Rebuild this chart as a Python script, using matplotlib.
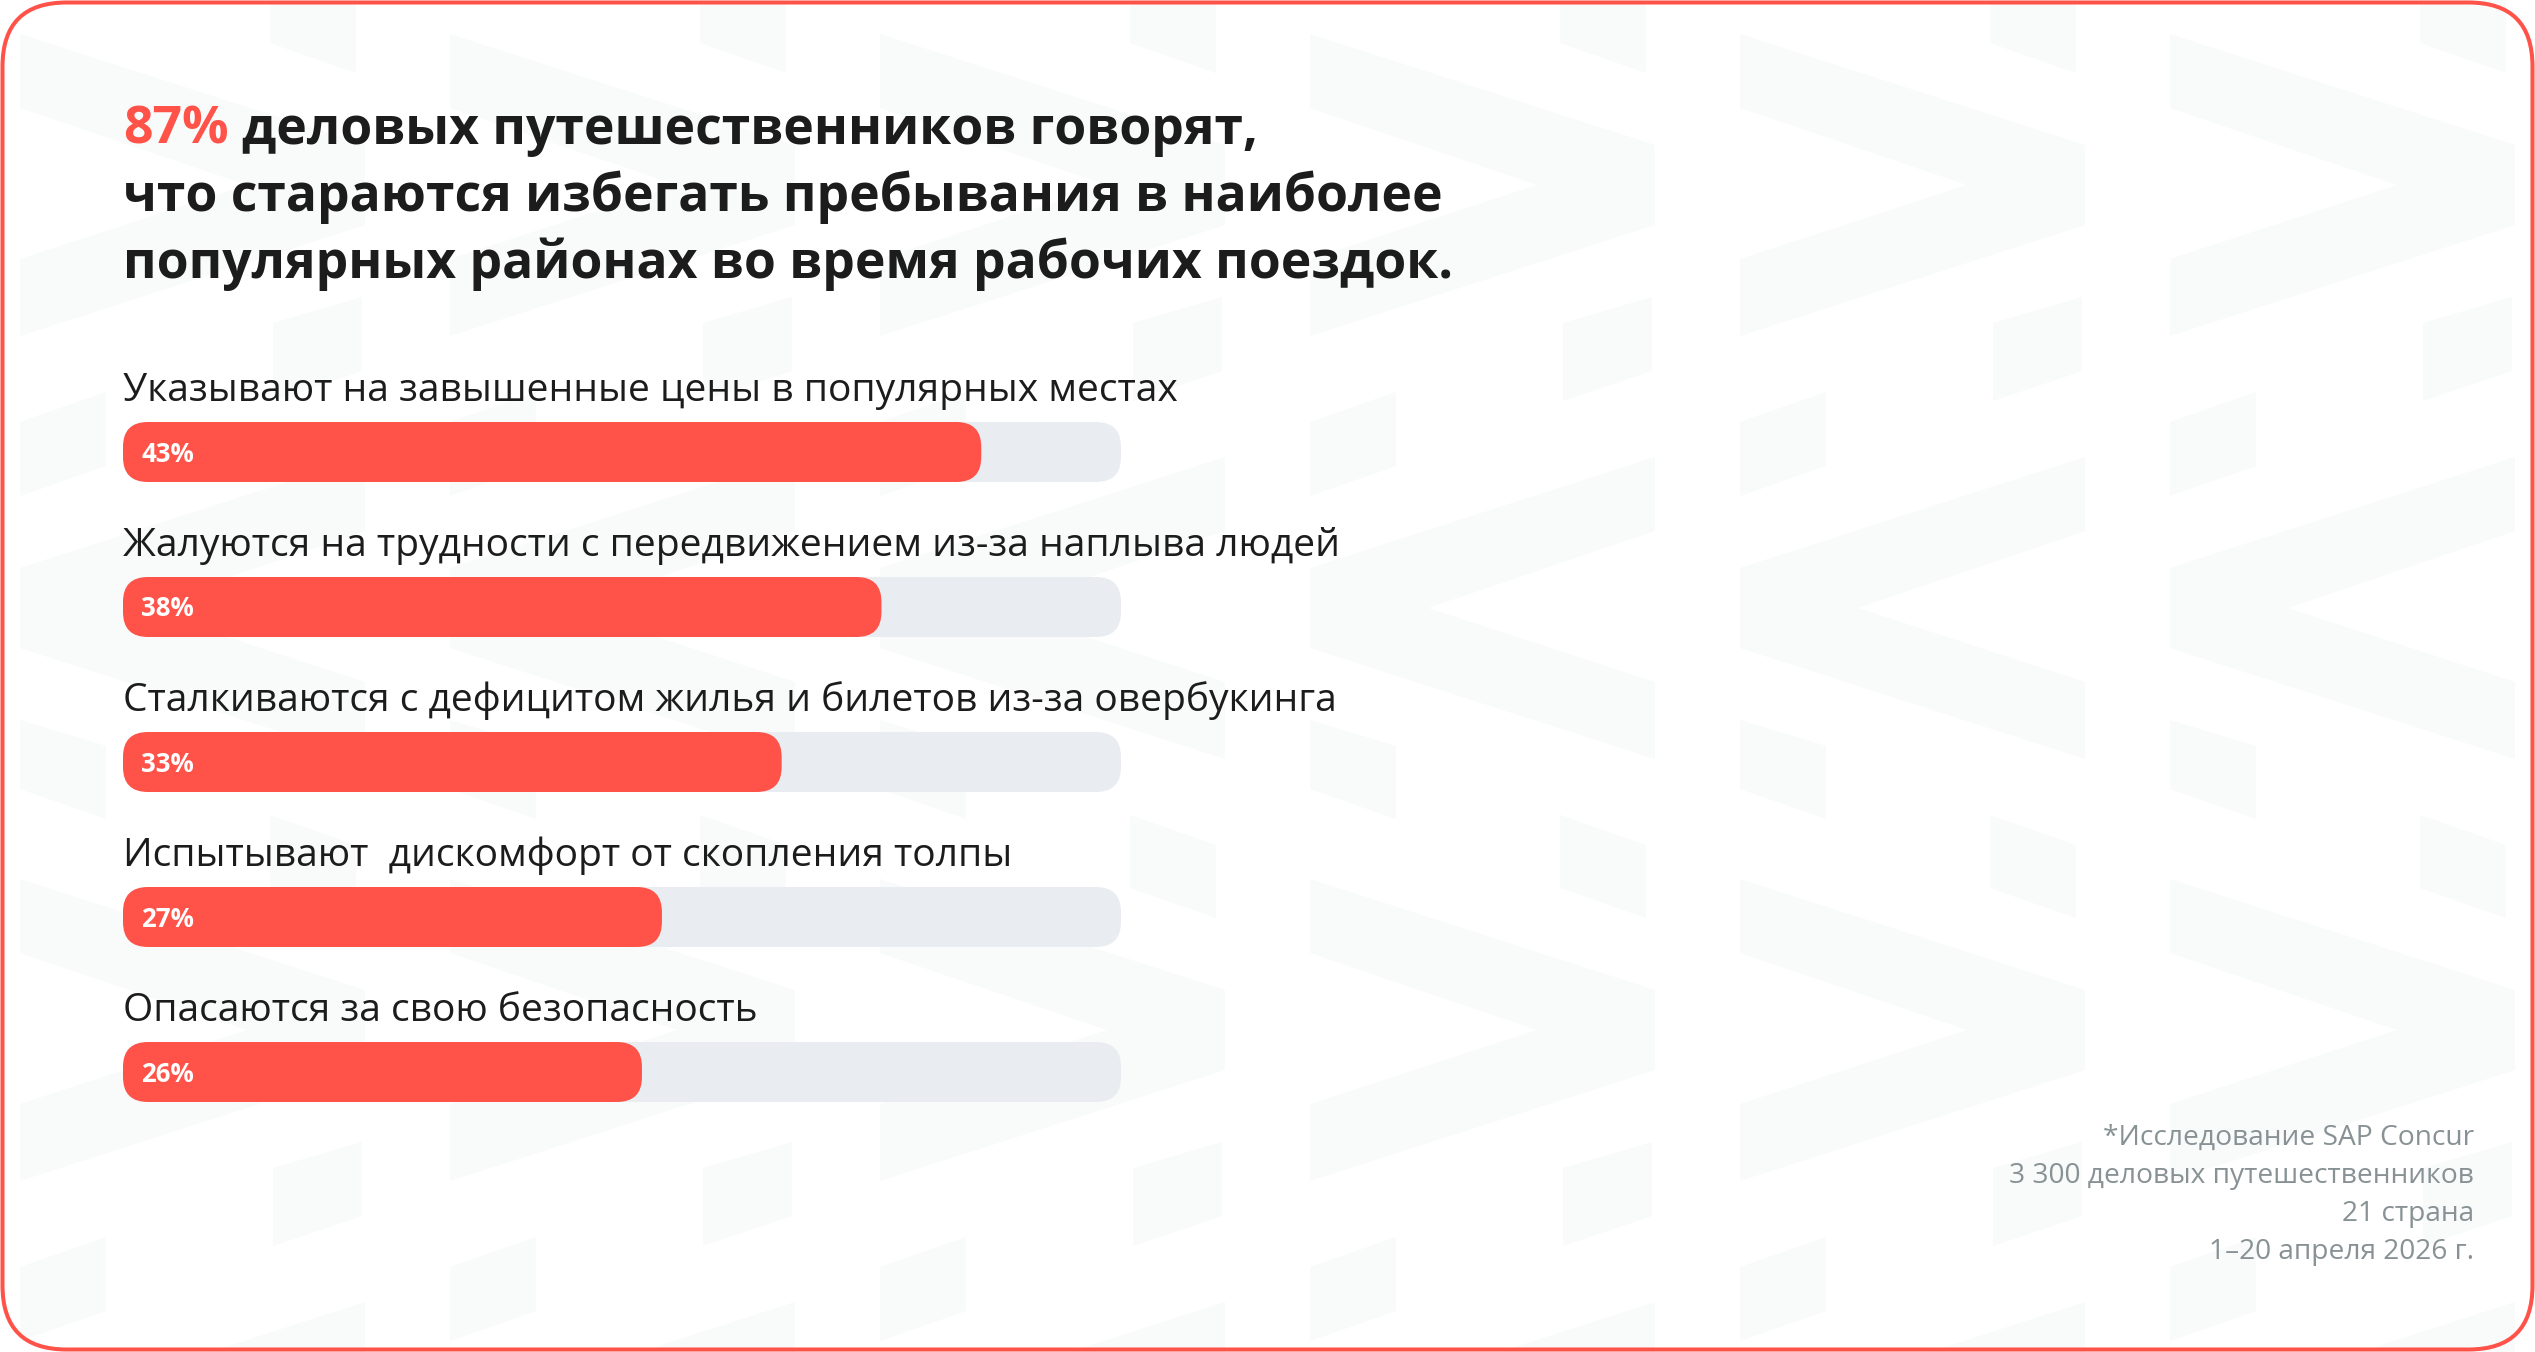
import matplotlib
matplotlib.use('Agg')
import matplotlib.pyplot as plt
from matplotlib.patches import FancyBboxPatch, Polygon

## Data
labels = ['Указывают на завышенные цены в популярных местах',
          'Жалуются на трудности с передвижением из-за наплыва людей',
          'Сталкиваются с дефицитом жилья и билетов из-за овербукинга',
          'Испытывают  дискомфорт от скопления толпы',
          'Опасаются за свою безопасность']
values = [43, 38, 33, 27, 26]
scale_max = 50

title_accent = '87%'
title_lines = ['деловых путешественников говорят,',
               'что стараются избегать пребывания в наиболее',
               'популярных районах во время рабочих поездок.']
note_lines = ['*Исследование SAP Concur',
              '3 300 деловых путешественников',
              '21 страна',
              '1–20 апреля 2026 г.']

RED = '#FF5349'
TRACK = '#E9EDF1'
DARK = '#1C1C1C'
GREY = '#889295'
PATTERN = '#F9FAFA'

W, H = 2535, 1352
fig = plt.figure(figsize=(W / 100, H / 100), dpi=100)
fig.patch.set_facecolor('white')
renderer = fig.canvas.get_renderer()

## Background axes in pixel units (y goes down)
bg = fig.add_axes([0, 0, 1, 1])
bg.set_xlim(0, W)
bg.set_ylim(H, 0)
bg.axis('off')

## Faint chevron pattern
chev_right = [(0, 0), (345, 111), (345, 191), (0, 302), (0, 225), (227, 151), (0, 74)]
chev_left = [(345, 423), (0, 534), (0, 614), (345, 725), (345, 648), (118, 574), (345, 497)]
pieces = [[(253, 289), (342, 263), (342, 337), (253, 367)],
          [(0, 388), (86, 358), (86, 432), (0, 462)],
          [(0, 686), (86, 712), (86, 785), (0, 755)],
          [(250, 781), (336, 811), (336, 884), (250, 854)]]
for x0 in [20, 450, 880, 1310, 1740, 2170]:
    for y0 in [-811, 34, 879]:
        for shape in [chev_right, chev_left] + pieces:
            pts = [(x0 + px, y0 + py) for px, py in shape]
            bg.add_patch(Polygon(pts, closed=True, facecolor=PATTERN, edgecolor='none', zorder=0))

## Red rounded frame
bg.add_patch(FancyBboxPatch((2.5, 2.5), W - 5, H - 5, boxstyle='round,pad=0,rounding_size=64',
                            facecolor='none', edgecolor=RED, linewidth=2.9, zorder=5))

def fit(t, target):
    w = t.get_window_extent(renderer).width
    t.set_fontsize(t.get_fontsize() * target / w)

## Title
title_font = dict(family=['Open Sans', 'DejaVu Sans'], weight='bold')
t2 = bg.text(123, 211, title_lines[1], color=DARK, va='baseline', fontsize=30, **title_font)
fit(t2, 1321)
fs_title = t2.get_fontsize()
t3 = bg.text(123, 278, title_lines[2], color=DARK, va='baseline', fontsize=fs_title, **title_font)
full = bg.text(0, -500, title_accent + ' ' + title_lines[0], fontsize=fs_title, **title_font)
rest = bg.text(0, -500, title_lines[0], fontsize=fs_title, **title_font)
offset = full.get_window_extent(renderer).width - rest.get_window_extent(renderer).width
full.remove()
rest.remove()
bg.text(123, 144, title_accent, color=RED, va='baseline', fontsize=fs_title, **title_font)
bg.text(123 + offset, 144, title_lines[0], color=DARK, va='baseline', fontsize=fs_title, **title_font)

## Footnote
note_font = dict(family=['Open Sans', 'DejaVu Sans'], weight='normal')
probe = bg.text(2474, 1183, note_lines[1], fontsize=14, **note_font)
fit(probe, 467)
fs_note = probe.get_fontsize()
probe.remove()
for i, line in enumerate(note_lines):
    bg.text(2474, 1145 + 38 * i, line, color=GREY, ha='right', va='baseline',
            fontsize=fs_note, **note_font)

## Bars axes: x in percent (track = 50%), y = category index
ax = fig.add_axes([123 / W, 1 - 1149.5 / H, 998 / W, 775 / H])
ax.set_xlim(0, scale_max)
ax.set_ylim(len(values) - 0.5, -0.5)
ax.axis('off')
ax.patch.set_alpha(0)

px_x = scale_max / 998.0   # data units per pixel, x
px_y = 1 / 155.0           # data units per pixel, y
bar_h = 60 * px_y
r = 25 * px_x
aspect = (25 * px_y) / r

label_font = dict(family=['Open Sans', 'DejaVu Sans'])
probe = ax.text(0, 0, labels[1], fontsize=20, **label_font)
fit(probe, 1217)
fs_label = probe.get_fontsize()
probe.remove()

probe = ax.text(0, 0, '43%', fontsize=14, weight='bold', **label_font)
fit(probe, 53)
fs_pct = probe.get_fontsize()
probe.remove()

for i, (lab, v) in enumerate(zip(labels, values)):
    ax.add_patch(FancyBboxPatch((0, i - bar_h / 2), scale_max, bar_h,
                                boxstyle=f'round,pad=0,rounding_size={r}', mutation_aspect=aspect,
                                facecolor=TRACK, edgecolor='none', zorder=1))
    ax.add_patch(FancyBboxPatch((0, i - bar_h / 2), v, bar_h,
                                boxstyle=f'round,pad=0,rounding_size={r}', mutation_aspect=aspect,
                                facecolor=RED, edgecolor='none', zorder=2))
    ax.text(0, i - 51 * px_y, lab, color=DARK, va='baseline', fontsize=fs_label, **label_font)
    ax.text(18 * px_x, i + 9.5 * px_y, '%d%%' % v, color='white', weight='bold',
            va='baseline', fontsize=fs_pct, zorder=3, **label_font)

fig.savefig('out.png', dpi=100, facecolor='white')
